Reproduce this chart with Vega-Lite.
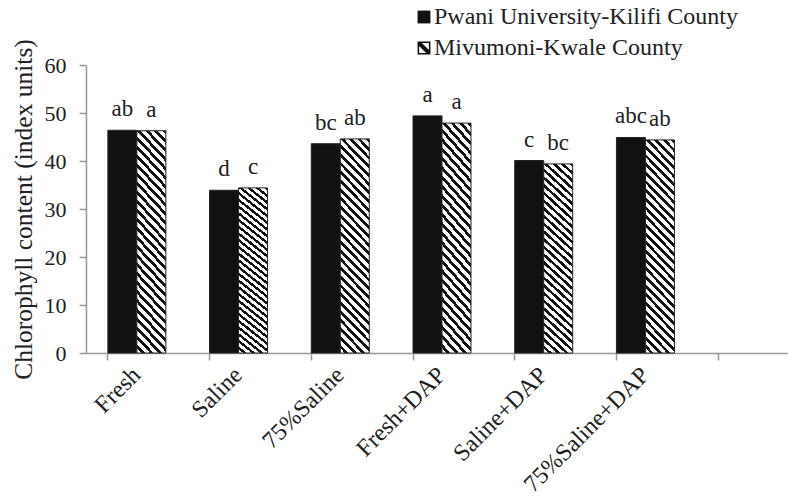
{
  "$schema": "https://vega.github.io/schema/vega-lite/v6.json",
  "width": 702,
  "height": 288,
  "autosize": {"type": "none"},
  "padding": {"left": 86, "top": 65, "right": 0, "bottom": 146},
  "background": "white",
  "config": {"view": {"stroke": null}, "font": "Liberation Serif"},
  "data": {
    "values": [
      {"treatment": "Fresh", "site": "Pwani University-Kilifi County", "value": 46.4, "letter": "ab"},
      {"treatment": "Fresh", "site": "Mivumoni-Kwale County", "value": 46.3, "letter": "a"},
      {"treatment": "Saline", "site": "Pwani University-Kilifi County", "value": 33.9, "letter": "d"},
      {"treatment": "Saline", "site": "Mivumoni-Kwale County", "value": 34.4, "letter": "c"},
      {"treatment": "75%Saline", "site": "Pwani University-Kilifi County", "value": 43.6, "letter": "bc"},
      {"treatment": "75%Saline", "site": "Mivumoni-Kwale County", "value": 44.6, "letter": "ab"},
      {"treatment": "Fresh+DAP", "site": "Pwani University-Kilifi County", "value": 49.4, "letter": "a"},
      {"treatment": "Fresh+DAP", "site": "Mivumoni-Kwale County", "value": 47.9, "letter": "a"},
      {"treatment": "Saline+DAP", "site": "Pwani University-Kilifi County", "value": 40.1, "letter": "c"},
      {"treatment": "Saline+DAP", "site": "Mivumoni-Kwale County", "value": 39.4, "letter": "bc"},
      {"treatment": "75%Saline+DAP", "site": "Pwani University-Kilifi County", "value": 44.9, "letter": "abc"},
      {"treatment": "75%Saline+DAP", "site": "Mivumoni-Kwale County", "value": 44.4, "letter": "ab"}
    ]
  },
  "encoding": {
    "x": {
      "field": "treatment",
      "type": "nominal",
      "sort": null,
      "scale": {
        "domain": ["Fresh", "Saline", "75%Saline", "Fresh+DAP", "Saline+DAP", "75%Saline+DAP", " "],
        "range": [0, 712],
        "paddingInner": 0.43,
        "paddingOuter": 0.215
      },
      "axis": {
        "title": null,
        "bandPosition": 0,
        "domainColor": "#999999",
        "domainWidth": 1.5,
        "tickColor": "#999999",
        "tickWidth": 1.5,
        "tickSize": 7,
        "labelAngle": -45,
        "labelAlign": "right",
        "labelBaseline": "middle",
        "labelFont": "Liberation Serif",
        "labelFontSize": 24,
        "labelColor": "#222222",
        "labelPadding": 11,
        "labelLimit": 300
      }
    },
    "xOffset": {
      "field": "site",
      "type": "nominal",
      "sort": ["Pwani University-Kilifi County", "Mivumoni-Kwale County"],
      "scale": {"paddingInner": 0, "paddingOuter": 0}
    },
    "y": {
      "field": "value",
      "type": "quantitative",
      "scale": {"domain": [0, 60], "nice": false},
      "axis": {
        "title": "Chlorophyll content (index units)",
        "titleFont": "Liberation Serif",
        "titleFontSize": 25.5,
        "titleFontWeight": "normal",
        "titleColor": "#222222",
        "titlePadding": 8,
        "values": [0, 10, 20, 30, 40, 50, 60],
        "grid": false,
        "domainColor": "#999999",
        "domainWidth": 1.5,
        "tickColor": "#999999",
        "tickWidth": 1.5,
        "tickSize": 7,
        "labelFont": "Liberation Serif",
        "labelFontSize": 22,
        "labelColor": "#222222",
        "labelPadding": 13
      }
    }
  },
  "layer": [
    {
      "transform": [{"filter": "datum.site === 'Pwani University-Kilifi County'"}],
      "mark": {"type": "bar", "stroke": "#222222", "strokeWidth": 1, "fill": "#111111"},
      "encoding": {}
    },
    {
      "transform": [{"filter": "datum.site === 'Mivumoni-Kwale County'"}],
      "mark": {
        "type": "bar",
        "stroke": "#222222",
        "strokeWidth": 1,
        "fill": {
          "gradient": "linear",
          "x1": 1, "y1": 0, "x2": 0.8435, "y2": 1.118,
          "stops": [
            {"offset": 0, "color": "#111111"},
            {"offset": 0.01607, "color": "#111111"}, {"offset": 0.01607, "color": "#ffffff"},
            {"offset": 0.03571, "color": "#ffffff"}, {"offset": 0.03571, "color": "#111111"},
            {"offset": 0.05179, "color": "#111111"}, {"offset": 0.05179, "color": "#ffffff"},
            {"offset": 0.07143, "color": "#ffffff"}, {"offset": 0.07143, "color": "#111111"},
            {"offset": 0.0875, "color": "#111111"}, {"offset": 0.0875, "color": "#ffffff"},
            {"offset": 0.10714, "color": "#ffffff"}, {"offset": 0.10714, "color": "#111111"},
            {"offset": 0.12321, "color": "#111111"}, {"offset": 0.12321, "color": "#ffffff"},
            {"offset": 0.14286, "color": "#ffffff"}, {"offset": 0.14286, "color": "#111111"},
            {"offset": 0.15893, "color": "#111111"}, {"offset": 0.15893, "color": "#ffffff"},
            {"offset": 0.17857, "color": "#ffffff"}, {"offset": 0.17857, "color": "#111111"},
            {"offset": 0.19464, "color": "#111111"}, {"offset": 0.19464, "color": "#ffffff"},
            {"offset": 0.21429, "color": "#ffffff"}, {"offset": 0.21429, "color": "#111111"},
            {"offset": 0.23036, "color": "#111111"}, {"offset": 0.23036, "color": "#ffffff"},
            {"offset": 0.25, "color": "#ffffff"}, {"offset": 0.25, "color": "#111111"},
            {"offset": 0.26607, "color": "#111111"}, {"offset": 0.26607, "color": "#ffffff"},
            {"offset": 0.28571, "color": "#ffffff"}, {"offset": 0.28571, "color": "#111111"},
            {"offset": 0.30179, "color": "#111111"}, {"offset": 0.30179, "color": "#ffffff"},
            {"offset": 0.32143, "color": "#ffffff"}, {"offset": 0.32143, "color": "#111111"},
            {"offset": 0.3375, "color": "#111111"}, {"offset": 0.3375, "color": "#ffffff"},
            {"offset": 0.35714, "color": "#ffffff"}, {"offset": 0.35714, "color": "#111111"},
            {"offset": 0.37321, "color": "#111111"}, {"offset": 0.37321, "color": "#ffffff"},
            {"offset": 0.39286, "color": "#ffffff"}, {"offset": 0.39286, "color": "#111111"},
            {"offset": 0.40893, "color": "#111111"}, {"offset": 0.40893, "color": "#ffffff"},
            {"offset": 0.42857, "color": "#ffffff"}, {"offset": 0.42857, "color": "#111111"},
            {"offset": 0.44464, "color": "#111111"}, {"offset": 0.44464, "color": "#ffffff"},
            {"offset": 0.46429, "color": "#ffffff"}, {"offset": 0.46429, "color": "#111111"},
            {"offset": 0.48036, "color": "#111111"}, {"offset": 0.48036, "color": "#ffffff"},
            {"offset": 0.5, "color": "#ffffff"}, {"offset": 0.5, "color": "#111111"},
            {"offset": 0.51607, "color": "#111111"}, {"offset": 0.51607, "color": "#ffffff"},
            {"offset": 0.53571, "color": "#ffffff"}, {"offset": 0.53571, "color": "#111111"},
            {"offset": 0.55179, "color": "#111111"}, {"offset": 0.55179, "color": "#ffffff"},
            {"offset": 0.57143, "color": "#ffffff"}, {"offset": 0.57143, "color": "#111111"},
            {"offset": 0.5875, "color": "#111111"}, {"offset": 0.5875, "color": "#ffffff"},
            {"offset": 0.60714, "color": "#ffffff"}, {"offset": 0.60714, "color": "#111111"},
            {"offset": 0.62321, "color": "#111111"}, {"offset": 0.62321, "color": "#ffffff"},
            {"offset": 0.64286, "color": "#ffffff"}, {"offset": 0.64286, "color": "#111111"},
            {"offset": 0.65893, "color": "#111111"}, {"offset": 0.65893, "color": "#ffffff"},
            {"offset": 0.67857, "color": "#ffffff"}, {"offset": 0.67857, "color": "#111111"},
            {"offset": 0.69464, "color": "#111111"}, {"offset": 0.69464, "color": "#ffffff"},
            {"offset": 0.71429, "color": "#ffffff"}, {"offset": 0.71429, "color": "#111111"},
            {"offset": 0.73036, "color": "#111111"}, {"offset": 0.73036, "color": "#ffffff"},
            {"offset": 0.75, "color": "#ffffff"}, {"offset": 0.75, "color": "#111111"},
            {"offset": 0.76607, "color": "#111111"}, {"offset": 0.76607, "color": "#ffffff"},
            {"offset": 0.78571, "color": "#ffffff"}, {"offset": 0.78571, "color": "#111111"},
            {"offset": 0.80179, "color": "#111111"}, {"offset": 0.80179, "color": "#ffffff"},
            {"offset": 0.82143, "color": "#ffffff"}, {"offset": 0.82143, "color": "#111111"},
            {"offset": 0.8375, "color": "#111111"}, {"offset": 0.8375, "color": "#ffffff"},
            {"offset": 0.85714, "color": "#ffffff"}, {"offset": 0.85714, "color": "#111111"},
            {"offset": 0.87321, "color": "#111111"}, {"offset": 0.87321, "color": "#ffffff"},
            {"offset": 0.89286, "color": "#ffffff"}, {"offset": 0.89286, "color": "#111111"},
            {"offset": 0.90893, "color": "#111111"}, {"offset": 0.90893, "color": "#ffffff"},
            {"offset": 0.92857, "color": "#ffffff"}, {"offset": 0.92857, "color": "#111111"},
            {"offset": 0.94464, "color": "#111111"}, {"offset": 0.94464, "color": "#ffffff"},
            {"offset": 0.96429, "color": "#ffffff"}, {"offset": 0.96429, "color": "#111111"},
            {"offset": 0.98036, "color": "#111111"}, {"offset": 0.98036, "color": "#ffffff"},
            {"offset": 1, "color": "#ffffff"}
          ]
        }
      },
      "encoding": {}
    },
    {
      "mark": {"type": "point", "filled": true, "size": 0, "opacity": 1, "strokeWidth": 0},
      "encoding": {
        "fill": {
          "field": "site",
          "type": "nominal",
          "scale": {
            "domain": ["Pwani University-Kilifi County", "Mivumoni-Kwale County"],
            "range": ["#111111", "#111111"]
          },
          "legend": {
            "orient": "none",
            "legendX": 326,
            "legendY": -60,
            "title": null,
            "padding": 0,
            "symbolSize": 165,
            "symbolStrokeWidth": 0,
            "symbolOpacity": 1,
            "labelFont": "Liberation Serif",
            "labelFontSize": 24,
            "labelColor": "#222222",
            "labelOffset": -2,
            "labelLimit": 400,
            "rowPadding": 7
          }
        },
        "shape": {
          "field": "site",
          "type": "nominal",
          "scale": {
            "domain": ["Pwani University-Kilifi County", "Mivumoni-Kwale County"],
            "range": [
              "square",
              "M-1,-1L1,-1L1,1L-1,1Z M-0.76,-0.76L-0.76,0.76L0.76,0.76L0.76,-0.76Z M-0.76,-0.76L-0.32,-0.76L0.76,0.32L0.76,0.76L0.32,0.76L-0.76,-0.32Z"
            ]
          },
          "legend": {
            "orient": "none",
            "legendX": 326,
            "legendY": -60,
            "title": null,
            "padding": 0,
            "symbolSize": 165,
            "symbolStrokeWidth": 0,
            "symbolOpacity": 1,
            "labelFont": "Liberation Serif",
            "labelFontSize": 24,
            "labelColor": "#222222",
            "labelOffset": -2,
            "labelLimit": 400,
            "rowPadding": 7
          }
        }
      }
    },
    {
      "mark": {
        "type": "text",
        "dy": -14,
        "baseline": "alphabetic",
        "fontSize": 23,
        "font": "Liberation Serif",
        "color": "#222222"
      },
      "encoding": {"text": {"field": "letter", "type": "nominal"}}
    }
  ]
}
